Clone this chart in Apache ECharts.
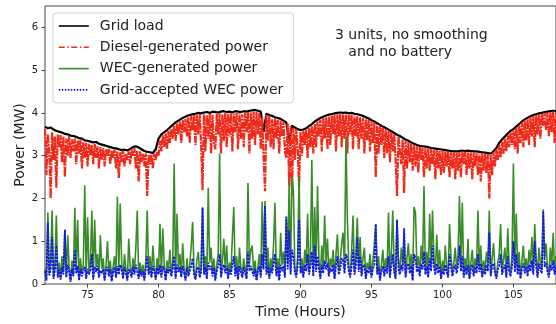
<!DOCTYPE html>
<html>
<head>
<meta charset="utf-8">
<script src="https://cdn.jsdelivr.net/npm/echarts@6/dist/echarts.min.js"></script>
<style>
  html, body { margin: 0; padding: 0; background: #fff; }
  #main { width: 556px; height: 324px; }
</style>
</head>
<body>
<div id="main"></div>
<script>
// hours 72 .. 108, grid load read every 0.2 h, the rest every 0.1 h
const startHour = 72
const loadStep = 0.2
const powerStep = 0.1

const xTicks = [75, 80, 85, 90, 95, 100, 105]
const yTicks = [0, 1, 2, 3, 4, 5, 6]

// Grid load (MW), one row per hour
const gridLoad = [
  3.68, 3.64, 3.66, 3.61, 3.58,
  3.56, 3.54, 3.51, 3.50, 3.47,
  3.46, 3.44, 3.41, 3.40, 3.36,
  3.35, 3.33, 3.31, 3.32, 3.28,
  3.26, 3.24, 3.22, 3.20, 3.18,
  3.17, 3.15, 3.13, 3.14, 3.12,
  3.16, 3.20, 3.22, 3.19, 3.15,
  3.11, 3.09, 3.08, 3.06, 3.15,
  3.40, 3.50, 3.55, 3.60, 3.66,
  3.72, 3.78, 3.82, 3.86, 3.90,
  3.93, 3.95, 3.97, 3.98, 4.00,
  3.99, 4.01, 4.02, 4.00, 4.03,
  4.02, 4.01, 4.03, 4.04, 4.02,
  4.03, 4.01, 4.04, 4.03, 4.02,
  4.04, 4.03, 4.05, 4.06, 4.07,
  4.05, 4.03, 3.55, 3.98, 3.95,
  3.93, 3.90, 3.88, 3.86, 3.82,
  3.78, 3.30, 3.70, 3.66, 3.62,
  3.60, 3.61, 3.64, 3.69, 3.74,
  3.80, 3.84, 3.88, 3.91, 3.94,
  3.96, 3.97, 3.99, 4.00, 4.01,
  4.00, 4.01, 3.99, 4.00, 3.98,
  3.97, 3.95, 3.93, 3.90, 3.87,
  3.83, 3.80, 3.76, 3.72, 3.68,
  3.65, 3.61, 3.57, 3.53, 3.49,
  3.46, 3.42, 3.38, 3.35, 3.31,
  3.28, 3.25, 3.23, 3.22, 3.21,
  3.20, 3.18, 3.17, 3.16, 3.15,
  3.14, 3.13, 3.12, 3.11, 3.10,
  3.10, 3.11, 3.12, 3.11, 3.12,
  3.11, 3.10, 3.10, 3.09, 3.08,
  3.07, 3.06, 3.05, 3.10, 3.18,
  3.30, 3.38, 3.45, 3.52, 3.58,
  3.62, 3.68, 3.74, 3.80, 3.85,
  3.89, 3.92, 3.95, 3.97, 3.99,
  4.00, 4.02, 4.03, 4.04, 4.05,
  4.04
]

// Diesel-generated power (MW)
const diesel = [
  3.62, 2.55, 3.50, 3.05, 2.00, 3.55, 2.90, 3.45, 2.25, 3.50,
  3.20, 3.48, 2.85, 3.45, 2.50, 3.40, 3.00, 3.46, 2.95, 3.38,
  3.10, 3.40, 2.80, 3.36, 3.05, 3.38, 2.70, 3.32, 2.95, 3.30,
  2.75, 3.28, 3.00, 3.25, 2.80, 3.27, 2.95, 3.22, 2.70, 3.20,
  2.90, 3.18, 2.75, 3.15, 3.00, 3.16, 2.80, 3.12, 2.95, 3.14,
  2.70, 3.10, 2.48, 3.08, 2.85, 3.12, 2.75, 3.05, 2.90, 3.10,
  2.80, 3.15, 3.00, 3.18, 2.70, 3.12, 2.40, 3.10, 2.85, 3.05,
  2.75, 3.05, 2.06, 3.02, 2.80, 3.03, 2.70, 3.04, 2.90, 3.10,
  3.00, 3.35, 3.10, 3.48, 3.20, 3.52, 3.15, 3.58, 3.30, 3.62,
  3.40, 3.70, 3.35, 3.76, 3.50, 3.80, 3.30, 3.84, 3.55, 3.86,
  3.45, 3.90, 3.30, 3.93, 3.60, 3.95, 3.25, 3.96, 3.50, 3.97,
  3.25, 2.20, 3.97, 3.10, 3.95, 3.40, 3.98, 3.05, 3.96, 3.30,
  3.15, 3.98, 3.50, 3.99, 3.05, 3.97, 3.35, 4.00, 3.20, 3.98,
  3.45, 3.99, 3.10, 3.98, 3.55, 4.00, 3.15, 3.99, 3.40, 3.97,
  3.20, 4.00, 3.55, 4.02, 3.05, 4.01, 3.40, 4.03, 3.25, 4.02,
  3.50, 4.00, 3.15, 3.90, 2.95, 2.17, 3.95, 3.35, 3.94, 3.20,
  3.85, 3.15, 3.88, 3.40, 3.84, 3.05, 3.82, 3.45, 3.80, 3.10,
  2.95, 3.75, 2.30, 3.70, 2.05, 3.65, 2.90, 3.62, 3.20, 2.25,
  3.56, 3.00, 3.58, 3.25, 3.60, 2.95, 3.65, 3.20, 3.70, 3.05,
  3.75, 3.20, 3.80, 3.45, 3.84, 3.10, 3.88, 3.40, 3.90, 3.15,
  3.92, 3.25, 3.94, 3.50, 3.96, 3.10, 3.97, 3.45, 3.98, 3.20,
  3.96, 3.40, 3.97, 3.05, 3.95, 3.50, 3.96, 3.15, 3.94, 3.45,
  3.92, 3.15, 3.90, 3.40, 3.88, 3.05, 3.86, 3.35, 3.84, 3.10,
  3.80, 3.30, 3.78, 2.50, 3.74, 3.05, 3.70, 3.25, 3.66, 2.95,
  3.62, 3.05, 3.58, 2.85, 3.55, 3.10, 3.50, 2.90, 2.06, 3.45,
  3.42, 2.80, 3.38, 2.13, 3.35, 2.70, 3.31, 2.85, 3.28, 2.65,
  3.25, 2.75, 3.22, 2.60, 3.20, 2.90, 3.19, 2.50, 3.18, 2.70,
  3.17, 2.65, 3.15, 2.80, 3.14, 2.45, 3.13, 2.70, 3.12, 2.55,
  3.11, 2.60, 3.10, 2.75, 3.09, 2.50, 3.08, 2.70, 3.07, 2.45,
  3.08, 2.65, 3.09, 2.50, 3.10, 2.80, 3.09, 2.55, 3.08, 2.70,
  3.08, 2.45, 3.07, 2.75, 3.06, 2.55, 3.05, 2.40, 3.06, 2.65,
  3.04, 2.60, 3.03, 2.00, 3.02, 2.55, 3.08, 2.75, 3.15, 2.90,
  3.25, 2.95, 3.32, 3.05, 3.40, 3.10, 3.48, 3.20, 3.55, 3.25,
  3.58, 3.15, 3.65, 3.05, 3.72, 3.30, 3.78, 3.20, 3.82, 3.35,
  3.86, 3.25, 3.90, 3.45, 3.93, 3.20, 3.95, 3.50, 3.97, 3.40,
  3.98, 3.70, 4.00, 3.60, 4.01, 3.45, 4.02, 3.55, 4.03, 3.30,
  4.02
]

// WEC-generated power (MW)
const wecGen = [
  0.35, 0.10, 1.67, 0.25, 0.55, 1.72, 0.15, 0.45, 1.60, 0.20,
  0.50, 0.12, 0.65, 0.30, 1.27, 0.18, 1.14, 0.40, 0.08, 0.55,
  0.20, 1.78, 0.35, 1.50, 0.10, 0.60, 0.25, 0.45, 2.31, 0.15,
  1.56, 0.30, 0.50, 1.72, 0.12, 1.50, 0.40, 0.70, 0.20, 1.14,
  0.35, 0.60, 0.10, 0.45, 1.00, 0.25, 0.55, 0.08, 0.40, 0.65,
  0.20, 2.04, 0.30, 1.88, 0.50, 0.15, 0.70, 0.35, 0.10, 1.06,
  0.40, 0.20, 0.60, 0.30, 0.85, 1.72, 0.15, 0.50, 0.25, 0.45,
  0.10, 0.55, 1.72, 0.30, 0.65, 0.20, 0.90, 0.40, 0.12, 0.60,
  0.30, 1.41, 0.20, 1.30, 0.45, 0.10, 0.55, 0.35, 0.80, 0.25,
  0.50, 2.82, 0.15, 1.64, 0.40, 0.70, 0.20, 0.95, 0.35, 0.10,
  0.60, 0.25, 0.45, 0.90, 1.45, 0.30, 0.12, 0.55, 0.75, 0.20,
  0.40, 1.80, 0.30, 0.65, 0.15, 2.25, 0.50, 0.85, 0.25, 0.60,
  0.10, 0.45, 0.70, 3.05, 0.20, 0.55, 1.06, 0.35, 0.90, 0.15,
  0.50, 0.30, 1.10, 1.80, 0.25, 0.65, 0.12, 0.85, 0.40, 0.20,
  0.60, 0.35, 0.15, 2.36, 0.45, 0.80, 0.90, 0.25, 0.55, 0.10,
  0.40, 0.70, 0.20, 1.93, 0.50, 1.94, 0.30, 0.85, 0.15, 0.60,
  0.35, 0.90, 1.90, 0.25, 0.60, 0.10, 1.20, 0.45, 0.75, 0.20,
  1.58, 0.50, 2.36, 0.30, 2.52, 2.17, 0.40, 0.20, 0.65, 2.52,
  0.35, 0.60, 0.20, 0.80, 0.45, 1.64, 0.30, 0.70, 2.90, 0.25,
  1.80, 0.40, 2.29, 0.55, 0.15, 0.90, 0.35, 1.60, 0.50, 1.06,
  0.25, 0.60, 0.40, 0.80, 0.15, 0.70, 1.16, 0.30, 0.55, 0.95,
  1.20, 0.35, 3.45, 1.55, 0.45, 0.20, 0.75, 1.60, 0.30, 0.65,
  1.55, 0.40, 1.10, 0.25, 0.60, 0.85, 0.15, 0.50, 0.35, 0.70,
  0.20, 0.55, 0.90, 1.40, 0.30, 0.65, 0.10, 0.45, 0.80, 0.25,
  0.60, 0.35, 1.67, 0.20, 0.75, 1.72, 0.40, 0.15, 1.50, 0.55,
  0.30, 0.85, 0.45, 1.15, 0.20, 0.60, 0.95, 0.35, 0.70, 0.10,
  1.80, 1.67, 0.40, 0.65, 0.25, 0.90, 0.50, 2.29, 0.30, 0.75,
  0.20, 1.64, 0.45, 1.72, 0.60, 0.30, 1.15, 0.35, 0.80, 0.15,
  0.55, 0.30, 0.90, 0.40, 0.20, 1.40, 0.65, 0.25, 0.50, 0.85,
  0.35, 0.70, 2.06, 0.45, 1.90, 0.20, 0.60, 0.30, 1.06, 0.15,
  0.50, 0.80, 0.25, 0.60, 0.35, 1.72, 0.40, 0.90, 0.20, 0.55,
  0.30, 0.75, 0.45, 1.72, 0.25, 0.60, 0.95, 0.35, 0.15, 0.50,
  0.70, 1.40, 0.30, 0.55, 0.85, 0.20, 1.30, 0.45, 0.25, 0.65,
  2.82, 0.40, 1.64, 0.30, 0.75, 0.15, 0.55, 0.90, 0.35, 0.60,
  0.25, 0.80, 0.45, 1.10, 0.30, 1.40, 0.60, 0.20, 0.85, 0.50,
  0.35, 1.75, 0.60, 0.95, 0.40, 0.20, 0.85, 0.45, 1.20, 0.30,
  0.65
]

// Grid-accepted WEC power (MW)
const wecAccepted = [
  0.30, 0.08, 1.43, 0.20, 0.35, 1.10, 0.12, 0.32, 0.90, 0.15,
  0.34, 0.10, 0.40, 0.22, 1.27, 0.15, 0.45, 0.28, 0.05, 0.35,
  0.18, 0.80, 0.25, 0.42, 0.08, 0.35, 0.18, 0.32, 0.40, 0.12,
  0.35, 0.22, 0.32, 0.70, 0.10, 0.40, 0.28, 0.42, 0.15, 0.32,
  0.25, 0.35, 0.08, 0.30, 0.40, 0.18, 0.35, 0.06, 0.28, 0.40,
  0.15, 0.42, 0.22, 0.45, 0.34, 0.12, 0.40, 0.25, 0.08, 0.35,
  0.28, 0.15, 0.40, 0.22, 0.45, 0.42, 0.12, 0.34, 0.18, 0.30,
  0.08, 0.35, 0.65, 0.22, 0.40, 0.15, 0.42, 0.28, 0.10, 0.38,
  0.22, 0.45, 0.15, 0.42, 0.32, 0.08, 0.35, 0.25, 0.40, 0.18,
  0.34, 0.65, 0.12, 0.45, 0.28, 0.40, 0.16, 0.42, 0.25, 0.08,
  0.38, 0.18, 0.30, 0.42, 0.60, 0.22, 0.10, 0.35, 0.40, 0.15,
  0.28, 1.78, 0.22, 0.40, 0.12, 0.50, 0.34, 0.42, 0.18, 0.38,
  0.08, 0.30, 0.42, 0.70, 0.15, 0.35, 0.45, 0.25, 0.42, 0.12,
  0.34, 0.22, 0.45, 0.65, 0.18, 0.40, 0.10, 0.42, 0.28, 0.15,
  0.40, 0.25, 0.12, 0.75, 0.30, 0.42, 0.45, 0.18, 0.35, 0.08,
  0.28, 0.42, 0.15, 0.70, 0.34, 1.83, 0.22, 0.45, 0.12, 0.38,
  0.25, 0.48, 0.70, 0.18, 0.40, 0.08, 0.45, 0.30, 0.42, 0.15,
  1.57, 0.34, 1.25, 0.22, 0.80, 0.65, 0.28, 0.15, 0.40, 1.50,
  0.25, 0.40, 0.15, 0.45, 0.30, 0.70, 0.22, 0.42, 0.75, 0.18,
  0.90, 0.28, 0.65, 0.35, 0.12, 0.45, 0.25, 0.55, 0.34, 0.50,
  0.18, 0.38, 0.28, 0.45, 0.12, 0.42, 0.65, 0.22, 0.35, 0.60,
  0.55, 0.25, 0.70, 0.60, 0.30, 0.15, 0.42, 0.80, 0.22, 0.40,
  1.10, 0.28, 0.65, 0.18, 0.40, 0.45, 0.12, 0.34, 0.25, 0.42,
  0.15, 0.35, 0.45, 1.40, 0.22, 0.40, 0.08, 0.30, 0.42, 0.18,
  0.40, 0.25, 0.65, 0.15, 0.42, 0.70, 0.28, 0.12, 1.50, 0.35,
  0.22, 0.45, 0.30, 1.30, 0.15, 0.40, 0.48, 0.25, 0.42, 0.08,
  0.70, 0.60, 0.28, 0.40, 0.18, 0.48, 0.34, 0.75, 0.22, 0.42,
  0.15, 0.60, 0.30, 0.90, 0.40, 0.22, 0.48, 0.25, 0.42, 0.12,
  0.35, 0.22, 0.45, 0.28, 0.15, 0.70, 0.40, 0.18, 0.34, 0.45,
  0.25, 0.42, 0.90, 0.30, 0.65, 0.15, 0.40, 0.22, 0.45, 0.12,
  0.34, 0.45, 0.18, 0.40, 0.25, 0.70, 0.28, 0.48, 0.15, 0.35,
  0.22, 0.45, 0.30, 1.20, 0.18, 0.40, 0.48, 0.25, 0.12, 0.34,
  0.42, 0.70, 0.22, 0.35, 0.45, 0.15, 0.65, 0.30, 0.18, 0.40,
  1.00, 0.28, 0.70, 0.22, 0.45, 0.12, 0.35, 0.48, 0.25, 0.40,
  0.18, 0.45, 0.30, 0.55, 0.22, 1.00, 0.40, 0.15, 0.48, 0.34,
  0.25, 1.70, 0.40, 0.50, 0.28, 0.15, 0.45, 0.32, 0.55, 0.22,
  0.42
]

// pair each reading with its hour
function withHours(values, step) {
  return values.map((v, i) => [Math.round((startHour + i * step) * 100) / 100, v])
}

const font = 'DejaVu Sans'
const chart = echarts.init(document.getElementById('main'), null, {renderer: 'canvas'})

let option = {
  animation: false,
  grid: {
    left: 45,
    top: 6,
    right: -7,
    bottom: 37,
    show: true,
    borderColor: '#444',
    borderWidth: 1,
    backgroundColor: 'transparent'
  },
  legend: {
    orient: 'vertical',
    left: 53,
    top: 13,
    padding: [6, 10, 6, 5],
    itemWidth: 30,
    itemHeight: 14,
    itemGap: 7.3,
    backgroundColor: 'rgba(255,255,255,0.85)',
    borderColor: '#d0d0d0',
    borderWidth: 1,
    borderRadius: 3,
    // hide the marker dot, keep only the line sample
    itemStyle: {color: 'transparent', borderColor: 'transparent', borderWidth: 0, opacity: 0},
    lineStyle: {width: 1.6},
    textStyle: {
      fontFamily: font,
      fontSize: 14,
      color: '#222',
      padding: [0, 0, 0, 6]
    },
    data: [
      'Grid load',
      {name: 'Diesel-generated power', lineStyle: {type: [6, 2.5, 1.5, 2.5]}},
      'WEC-generated power',
      {name: 'Grid-accepted WEC power', lineStyle: {type: [1.5, 1.5]}}
    ]
  },
  graphic: [
    {
      type: 'text',
      left: 335,
      top: 27,
      style: {
        text: '3 units, no smoothing\n   and no battery',
        font: '14px "DejaVu Sans"',
        lineHeight: 17,
        fill: '#222'
      }
    }
  ],
  xAxis: {
    type: 'value',
    min: 72,
    max: 108,
    name: 'Time (Hours)',
    nameLocation: 'middle',
    nameGap: 21,
    nameMoveOverlap: false,
    nameTextStyle: {fontFamily: font, fontSize: 14, color: '#222'},
    axisLine: {show: false},
    axisTick: {show: true, length: 3.5, lineStyle: {color: '#444'}, customValues: xTicks},
    axisLabel: {fontFamily: font, fontSize: 10, color: '#222', margin: 6, customValues: xTicks},
    splitLine: {show: false}
  },
  yAxis: {
    type: 'value',
    min: 0,
    max: 6.5,
    name: 'Power (MW)',
    nameLocation: 'middle',
    nameGap: 18,
    nameMoveOverlap: false,
    nameTextStyle: {fontFamily: font, fontSize: 14, color: '#222'},
    axisLine: {show: false},
    axisTick: {show: true, length: 3.5, lineStyle: {color: '#444'}, customValues: yTicks},
    axisLabel: {fontFamily: font, fontSize: 10, color: '#222', margin: 7, customValues: yTicks},
    splitLine: {show: false}
  },
  series: [
    {
      name: 'Grid load',
      type: 'line',
      symbol: 'none',
      silent: true,
      color: '#000000',
      lineStyle: {color: '#000000', width: 2.2},
      data: withHours(gridLoad, loadStep)
    },
    {
      name: 'Diesel-generated power',
      type: 'line',
      symbol: 'none',
      silent: true,
      color: '#f02a1a',
      lineStyle: {color: '#f02a1a', width: 2.2, type: [7, 1, 2, 1]},
      data: withHours(diesel, powerStep)
    },
    {
      name: 'WEC-generated power',
      type: 'line',
      symbol: 'none',
      silent: true,
      color: '#3a8c2a',
      lineStyle: {color: '#3a8c2a', width: 1.6},
      data: withHours(wecGen, powerStep)
    },
    {
      name: 'Grid-accepted WEC power',
      type: 'line',
      symbol: 'none',
      silent: true,
      color: '#1414f0',
      lineStyle: {color: '#1414f0', width: 1.8, type: [2.5, 1]},
      data: withHours(wecAccepted, powerStep)
    }
  ]
}

chart.setOption(option)
</script>
</body>
</html>
